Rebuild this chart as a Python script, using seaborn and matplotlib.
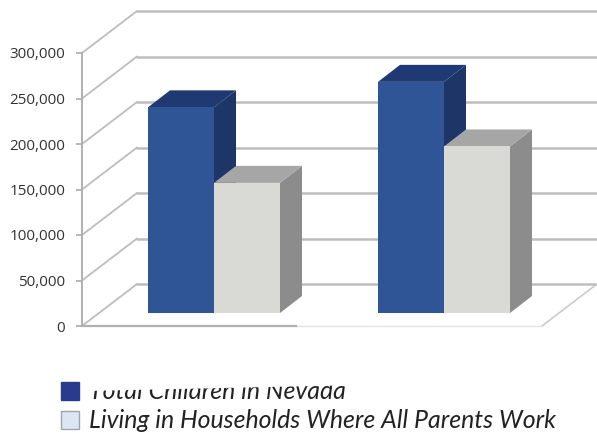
import numpy as np
import pandas as pd
import seaborn as sns
import matplotlib.pyplot as plt
from matplotlib.patches import Patch, Polygon
from matplotlib.transforms import IdentityTransform

groups = ['Group A', 'Group B']
total_children = [226000, 254000]
working_parents = [143000, 183000]
series_names = ['Total Children in Nevada', 'Living in Households Where All Parents Work']
y_ticks = [0, 50000, 100000, 150000, 200000, 250000, 300000]

df = pd.DataFrame({
    'group': groups * 2,
    'children': total_children + working_parents,
    'series': [series_names[0]] * 2 + [series_names[1]] * 2,
})

sns.set_theme(style='white')
plt.rcParams['font.family'] = ['Open Sans', 'DejaVu Sans']

W, H = 597, 434
fig = plt.figure(figsize=(W / 100, H / 100), dpi=100)
ax = fig.add_axes([82 / W, (H - 326) / H, (W - 82) / W, 326 / H])

px_x = 230.0             # pixels per category
px_y = 45.5 / 50000      # pixels per child

front = ['#2F5597', '#D9DAD6']
tops = ['#1F3A73', '#A6A6A6']
sides = ['#1D3567', '#8C8C8C']

sns.barplot(data=df, x='group', y='children', hue='series', hue_order=series_names,
            palette=front, saturation=1, width=132 / px_x, gap=0, legend=False,
            ax=ax, zorder=4)

# barplot resets the limits, so set them afterwards
ax.set_xlim((82 - 214) / px_x, (597 - 214) / px_x)
ax.set_ylim(0, 326 / px_y)

# wall and floor depth of the fake 3d box
wall_dx, wall_dy = 55 / px_x, 42 / px_y
bar_dx, bar_dy = 22 / px_x, 17 / px_y
floor_dy = 13 / px_y
grid = '#BDBDBD'

xmin, xmax = ax.get_xlim()
for t in y_ticks:
    ax.plot([xmin, xmin + wall_dx], [t, t + wall_dy], color=grid, lw=1.3, zorder=1, clip_on=False)
    ax.plot([xmin + wall_dx, xmax], [t + wall_dy, t + wall_dy], color=grid, lw=1.8, zorder=1)

# right front corner of the floor
edge_x = xmax - wall_dx
ax.plot([edge_x, xmax], [0, wall_dy], color='#C8C8C8', lw=1.1, zorder=2)
ax.plot([(296 - 214) / px_x, edge_x], [0, 0], color='#E2E2E2', lw=1, zorder=2, clip_on=False)

bars = [p for p in ax.patches]
for i, bar in enumerate(bars):
    series = i // 2
    bar.set_y(floor_dy)
    x0, w, h = bar.get_x(), bar.get_width(), bar.get_height()
    y1 = floor_dy + h
    z = 3 + 3 * series
    bar.set_zorder(z + 1)
    bar.set_edgecolor('none')
    ax.add_patch(Polygon([(x0 + w, floor_dy), (x0 + w + bar_dx, floor_dy + bar_dy),
                          (x0 + w + bar_dx, y1 + bar_dy), (x0 + w, y1)],
                         facecolor=sides[series], edgecolor='none', zorder=z))
    ax.add_patch(Polygon([(x0, y1), (x0 + bar_dx, y1 + bar_dy),
                          (x0 + w + bar_dx, y1 + bar_dy), (x0 + w, y1)],
                         facecolor=tops[series], edgecolor='none', zorder=z))

sns.despine(ax=ax, top=True, right=True)
ax.spines['left'].set_bounds(0, 300000)
ax.spines['left'].set_color('#B0B0B0')
ax.spines['left'].set_linewidth(1.4)
ax.spines['bottom'].set_bounds(xmin, (296 - 214) / px_x)
ax.spines['bottom'].set_color('#B0B0B0')
ax.spines['bottom'].set_linewidth(1.6)
ax.patch.set_alpha(0)

ax.set_yticks(y_ticks)
ax.set_yticklabels([f'{t:,}' for t in y_ticks], fontsize=11, color='#333333')
ax.tick_params(axis='y', left=True, length=4, width=1.3, color='#B0B0B0', pad=8)
ax.set_xticks([])
ax.set_xlabel('')
ax.set_ylabel('')

handles = [Patch(facecolor='#2A3A8F', edgecolor='#2A3A8F'),
           Patch(facecolor='#DCE6F2', edgecolor='#A0A4AC', linewidth=1)]
leg = fig.legend(handles, series_names, loc='upper left', bbox_to_anchor=(54 / W, 1 - 373 / H),
                 frameon=False, fontsize=17.9, handlelength=0.72, handleheight=0.72,
                 labelspacing=0.24, handletextpad=0.38, borderpad=0.3, borderaxespad=0)
for txt in leg.get_texts():
    txt.set_family(['Lato', 'DejaVu Sans'])
    txt.set_style('italic')
    txt.set_color('#222222')

# the first label only shows its lower part, as in the source
fig.add_artist(Polygon([(85, H - 391), (360, H - 385), (360, H - 365), (85, H - 365)],
                       facecolor='white', edgecolor='none', transform=IdentityTransform(), zorder=20))

fig.savefig('out.png', dpi=100)
